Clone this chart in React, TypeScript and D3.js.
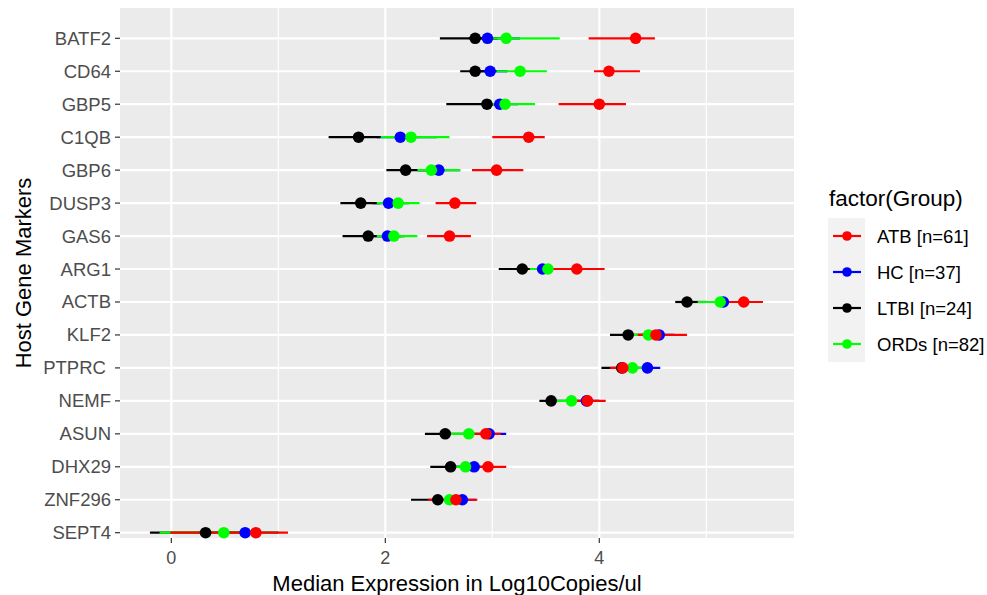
import React, { useEffect, useRef } from "react";
import * as d3 from "d3";

const genes = [
  "BATF2", "CD64", "GBP5", "C1QB", "GBP6", "DUSP3", "GAS6", "ARG1",
  "ACTB", "KLF2", "PTPRC ", "NEMF", "ASUN", "DHX29", "ZNF296", "SEPT4",
];

const groupLabels = ["ATB [n=61]", "HC [n=37]", "LTBI [n=24]", "ORDs [n=82]"];
const groupColors = ["#ff0000", "#0000ff", "#000000", "#00ff00"];

// ATB
const atbMedian = [4.34, 4.09, 4.0, 3.34, 3.04, 2.65, 2.6, 3.79, 5.35, 4.53, 4.22, 3.89, 2.94, 2.96, 2.66, 0.79];
const atbLow = [3.9, 3.95, 3.62, 3.0, 2.81, 2.47, 2.39, 3.45, 5.2, 4.36, 4.1, 3.7, 2.75, 2.8, 2.4, -0.01];
const atbHigh = [4.52, 4.38, 4.25, 3.49, 3.29, 2.85, 2.8, 4.05, 5.53, 4.82, 4.33, 4.06, 3.08, 3.13, 2.86, 1.09];

// HC
const hcMedian = [2.955, 2.98, 3.07, 2.14, 2.5, 2.03, 2.02, 3.47, 5.16, 4.56, 4.45, 3.88, 2.97, 2.83, 2.72, 0.69];
const hcLow = [2.78, 2.85, 2.9, 1.92, 2.3, 1.88, 1.85, 3.3, 4.95, 4.4, 4.25, 3.7, 2.8, 2.65, 2.55, 0.25];
const hcHigh = [3.26, 3.14, 3.24, 2.48, 2.7, 2.22, 2.15, 3.7, 5.3, 4.7, 4.57, 4.0, 3.13, 3.0, 2.85, 1.0];

// LTBI
const ltbiMedian = [2.84, 2.84, 2.95, 1.75, 2.19, 1.77, 1.84, 3.28, 4.82, 4.27, 4.21, 3.55, 2.56, 2.61, 2.49, 0.32];
const ltbiLow = [2.51, 2.7, 2.57, 1.47, 2.01, 1.58, 1.6, 3.06, 4.71, 4.1, 4.02, 3.44, 2.37, 2.42, 2.24, -0.2];
const ltbiHigh = [3.05, 3.0, 3.15, 1.95, 2.4, 1.95, 2.18, 3.48, 5.0, 4.45, 4.35, 3.7, 2.75, 2.8, 2.65, 0.75];

// ORDs
const ordsMedian = [3.13, 3.26, 3.12, 2.24, 2.43, 2.12, 2.08, 3.52, 5.13, 4.46, 4.31, 3.74, 2.78, 2.75, 2.6, 0.49];
const ordsLow = [2.95, 3.04, 2.95, 1.96, 2.3, 1.92, 1.92, 3.35, 4.92, 4.3, 4.15, 3.6, 2.6, 2.6, 2.45, -0.11];
const ordsHigh = [3.63, 3.51, 3.4, 2.6, 2.7, 2.32, 2.3, 3.93, 5.27, 4.62, 4.45, 3.9, 2.95, 2.9, 2.75, 1.0];

const xMajor = [0, 2, 4];
const xMinor = [1, 3, 5];

const series = [
  { median: atbMedian, low: atbLow, high: atbHigh },
  { median: hcMedian, low: hcLow, high: hcHigh },
  { median: ltbiMedian, low: ltbiLow, high: ltbiHigh },
  { median: ordsMedian, low: ordsLow, high: ordsHigh },
];
// drawing order seen in the picture: HC, LTBI, ORDs, then ATB on top
const drawOrder = [1, 2, 3, 0];

const FONT = "'Liberation Sans', Arial, sans-serif";

const App = () => {
  const svgRef = useRef<SVGSVGElement>(null);

  useEffect(() => {
    const svg = d3.select(svgRef.current);
    svg.selectAll("*").remove();

    const panel = { left: 120, right: 794, top: 8, bottom: 538 };

    const x = d3.scaleLinear().domain([-0.48, 5.82]).range([panel.left, panel.right]);
    const y = d3.scalePoint<string>().domain(genes).range([38.3, 532.7]);

    svg
      .append("rect")
      .attr("x", panel.left)
      .attr("y", panel.top)
      .attr("width", panel.right - panel.left)
      .attr("height", panel.bottom - panel.top)
      .attr("fill", "#ebebeb");

    const grid = svg.append("g");
    grid
      .selectAll(".minor")
      .data(xMinor)
      .enter()
      .append("line")
      .attr("x1", (d) => x(d))
      .attr("x2", (d) => x(d))
      .attr("y1", panel.top)
      .attr("y2", panel.bottom)
      .attr("stroke", "#fff")
      .attr("stroke-width", 1.2);
    grid
      .selectAll(".majorx")
      .data(xMajor)
      .enter()
      .append("line")
      .attr("x1", (d) => x(d))
      .attr("x2", (d) => x(d))
      .attr("y1", panel.top)
      .attr("y2", panel.bottom)
      .attr("stroke", "#fff")
      .attr("stroke-width", 2.2);
    grid
      .selectAll(".majory")
      .data(genes)
      .enter()
      .append("line")
      .attr("x1", panel.left)
      .attr("x2", panel.right)
      .attr("y1", (d) => y(d)!)
      .attr("y2", (d) => y(d)!)
      .attr("stroke", "#fff")
      .attr("stroke-width", 2.2);

    // error bars for all groups first
    const bars = svg.append("g");
    drawOrder.forEach((gi) => {
      const s = series[gi];
      bars
        .selectAll(`.bar${gi}`)
        .data(genes)
        .enter()
        .append("line")
        .attr("x1", (_, i) => x(s.low[i]))
        .attr("x2", (_, i) => x(s.high[i]))
        .attr("y1", (d) => y(d)!)
        .attr("y2", (d) => y(d)!)
        .attr("stroke", groupColors[gi])
        .attr("stroke-width", 2.2);
    });

    // then the medians
    const pts = svg.append("g");
    drawOrder.forEach((gi) => {
      const s = series[gi];
      pts
        .selectAll(`.pt${gi}`)
        .data(genes)
        .enter()
        .append("circle")
        .attr("cx", (_, i) => x(s.median[i]))
        .attr("cy", (d) => y(d)!)
        .attr("r", 5.8)
        .attr("fill", groupColors[gi]);
    });

    // y axis
    const yAxis = svg.append("g");
    genes.forEach((g) => {
      yAxis
        .append("line")
        .attr("x1", panel.left - 5)
        .attr("x2", panel.left)
        .attr("y1", y(g)!)
        .attr("y2", y(g)!)
        .attr("stroke", "#333")
        .attr("stroke-width", 1.2);
      yAxis
        .append("text")
        .attr("x", panel.left - 9)
        .attr("y", y(g)! + 6.5)
        .attr("text-anchor", "end")
        .attr("font-family", FONT)
        .attr("font-size", 18.5)
        .attr("fill", "#4d4d4d")
        .attr("xml:space", "preserve")
        .style("white-space", "pre")
        .text(g);
    });

    // x axis
    const xAxis = svg.append("g");
    xMajor.forEach((t) => {
      xAxis
        .append("line")
        .attr("x1", x(t))
        .attr("x2", x(t))
        .attr("y1", panel.bottom)
        .attr("y2", panel.bottom + 5)
        .attr("stroke", "#333")
        .attr("stroke-width", 1.2);
      xAxis
        .append("text")
        .attr("x", x(t))
        .attr("y", panel.bottom + 26)
        .attr("text-anchor", "middle")
        .attr("font-family", FONT)
        .attr("font-size", 18)
        .attr("fill", "#4d4d4d")
        .text(t);
    });

    svg
      .append("text")
      .attr("x", (panel.left + panel.right) / 2)
      .attr("y", 591)
      .attr("text-anchor", "middle")
      .attr("font-family", FONT)
      .attr("font-size", 22)
      .attr("fill", "#000")
      .text("Median Expression in Log10Copies/ul");

    svg
      .append("text")
      .attr("transform", `translate(31,${(panel.top + panel.bottom) / 2}) rotate(-90)`)
      .attr("text-anchor", "middle")
      .attr("font-family", FONT)
      .attr("font-size", 22)
      .attr("fill", "#000")
      .text("Host Gene Markers");

    // legend
    const legend = svg.append("g");
    legend
      .append("text")
      .attr("x", 829)
      .attr("y", 206)
      .attr("font-family", FONT)
      .attr("font-size", 22.5)
      .attr("fill", "#000")
      .text("factor(Group)");

    const keyTop = 218;
    const keyH = 36;
    groupLabels.forEach((lab, i) => {
      const cy = keyTop + keyH * i + keyH / 2;
      legend
        .append("rect")
        .attr("x", 828)
        .attr("y", keyTop + keyH * i)
        .attr("width", 37)
        .attr("height", keyH)
        .attr("fill", "#f2f2f2");
      legend
        .append("line")
        .attr("x1", 833)
        .attr("x2", 861)
        .attr("y1", cy)
        .attr("y2", cy)
        .attr("stroke", groupColors[i])
        .attr("stroke-width", 2.2);
      legend
        .append("circle")
        .attr("cx", 847)
        .attr("cy", cy)
        .attr("r", 4.8)
        .attr("fill", groupColors[i]);
      legend
        .append("text")
        .attr("x", 877)
        .attr("y", cy + 6.5)
        .attr("font-family", FONT)
        .attr("font-size", 18.5)
        .attr("fill", "#000")
        .text(lab);
    });
  }, []);

  return (
    <div style={{ position: "absolute", left: 0, top: 0 }}>
      <svg ref={svgRef} width={987} height={595} style={{ display: "block", background: "#fff" }} />
    </div>
  );
};

export default App;
